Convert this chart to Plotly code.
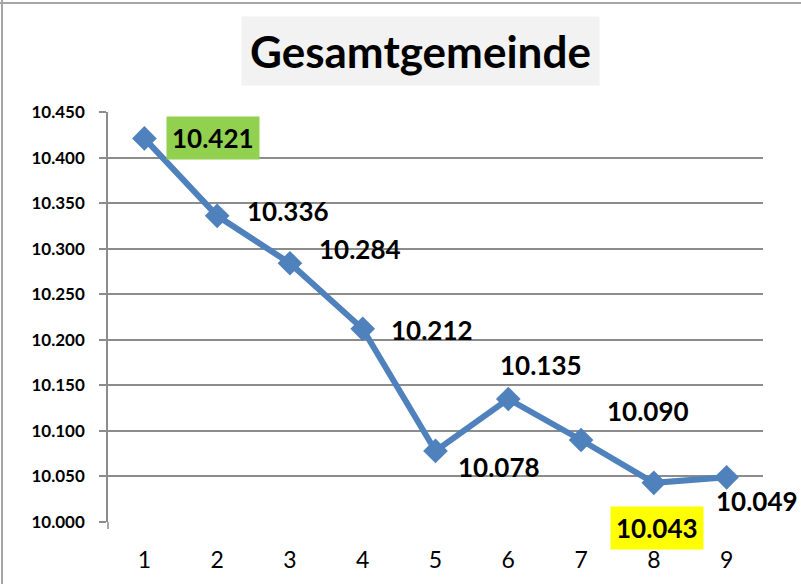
import plotly.graph_objects as go

# ---- data ----
categories = [1, 2, 3, 4, 5, 6, 7, 8, 9]
values = [10421, 10336, 10284, 10212, 10078, 10135, 10090, 10043, 10049]
title_text = "Gesamtgemeinde"
y_tick_values = [10000, 10050, 10100, 10150, 10200, 10250, 10300, 10350, 10400, 10450]

# ---- styling ----
LINE_COLOR = "#4f81bd"
GRID_COLOR = "#8c8c8c"
FONT = "Lato"
label_shift = [(69, 0), (71, 5), (70, 14), (69, -1), (63, -16), (33, 34), (67, 29), (3, -45), (30, -24)]
label_bg = ["#92d050", None, None, None, None, None, None, "#ffff00", None]

W, H = 801, 584
L, R, T, B = 108, 38, 112, 62
pw, ph = W - L - R, H - T - B

def fmt(v):
    return f"{v:,}".replace(",", ".")

fig = go.Figure()
fig.add_trace(go.Scatter(
    x=categories, y=values, mode="lines+markers",
    line=dict(color=LINE_COLOR, width=6),
    marker=dict(symbol="diamond", size=19, color=LINE_COLOR),
    hoverinfo="skip", showlegend=False,
))

annotations = []
for c, v, (dx, dy), bg in zip(categories, values, label_shift, label_bg):
    a = dict(x=c, y=v, xref="x", yref="y", text=fmt(v), showarrow=False,
             xshift=dx, yshift=dy, xanchor="center", yanchor="middle",
             font=dict(family=FONT, size=26, color="black", weight="bold"))
    if bg:
        a.update(bgcolor=bg, borderpad=5)
    annotations.append(a)

annotations.append(dict(
    x=(420 - L) / pw, y=(522 - 51) / ph, xref="paper", yref="paper",
    text=title_text, showarrow=False, xanchor="center", yanchor="middle",
    bgcolor="#f2f2f2", borderpad=8,
    font=dict(family=FONT, size=44, color="black", weight="bold"),
))

shapes = [
    dict(type="line", xref="paper", yref="paper", x0=-0.5, x1=1.5,
         y0=(522 - 3) / ph, y1=(522 - 3) / ph, line=dict(color="#a6a6a6", width=2)),
    dict(type="line", xref="paper", yref="paper", x0=(2 - L) / pw, x1=(2 - L) / pw,
         y0=-0.5, y1=1.5, line=dict(color="#a6a6a6", width=2)),
    dict(type="line", xref="paper", yref="paper", x0=0, x1=0,
         y0=0, y1=-7 / ph, line=dict(color=GRID_COLOR, width=1.5)),
]

fig.update_layout(
    width=W, height=H, margin=dict(l=L, r=R, t=T, b=B, pad=0),
    paper_bgcolor="white", plot_bgcolor="white",
    separators=",.",
    annotations=annotations, shapes=shapes,
    xaxis=dict(range=[0.5, 9.5], tickvals=categories, ticktext=[str(c) for c in categories],
               showgrid=False, zeroline=False, showline=False, ticks="",
               ticklabelstandoff=22,
               tickfont=dict(family=FONT, size=23, color="black")),
    yaxis=dict(range=[10000, 10450], tickvals=y_tick_values, tickformat=",d",
               showgrid=True, gridcolor=GRID_COLOR, gridwidth=1.5, zeroline=False,
               showline=True, linecolor=GRID_COLOR, linewidth=1.5,
               ticks="outside", ticklen=7, tickcolor=GRID_COLOR, tickwidth=1.5,
               ticklabelstandoff=11,
               tickfont=dict(family=FONT, size=17, color="black", weight="bold")),
)

fig.write_html("out.html", config={"displayModeBar": False},
               post_script="document.body.style.margin='0px';document.body.style.overflow='hidden';")
